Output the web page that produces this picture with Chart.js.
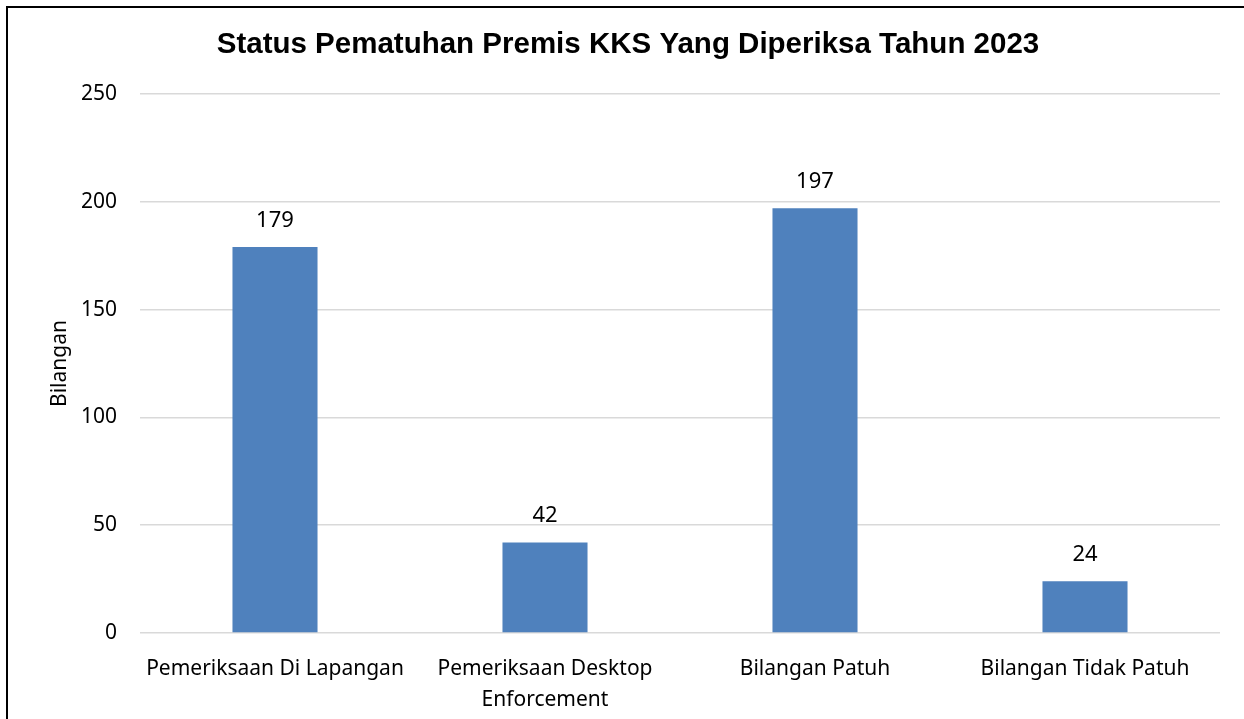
<!DOCTYPE html>
<html>
<head>
<meta charset="utf-8">
<script src="https://cdn.jsdelivr.net/npm/chart.js@4.4.0/dist/chart.umd.min.js"></script>
<style>
  html, body { margin: 0; padding: 0; background: #fff; }
  body { width: 1244px; height: 719px; overflow: hidden; position: relative; }
  .frame { position: absolute; left: 6px; top: 6px; width: 1300px; height: 800px;
           border-left: 2px solid #000; border-top: 2px solid #000; }
  #chartWrap { position: absolute; left: 0; top: 0; width: 1244px; height: 719px; }
</style>
</head>
<body>
<div class="frame"></div>
<div id="chartWrap"><canvas id="statusChart"></canvas></div>
<script>
// data
const categories = [
  "Pemeriksaan Di Lapangan",
  ["Pemeriksaan Desktop", "Enforcement"],
  "Bilangan Patuh",
  "Bilangan Tidak Patuh"
];
const counts = [179, 42, 197, 24];
const yTicks = [0, 50, 100, 150, 200, 250];
const chartTitle = "Status Pematuhan Premis KKS Yang Diperiksa Tahun 2023";

const labelFont = "'Noto Sans', 'Open Sans', sans-serif";

// title + value labels above each bar
const textPlugin = {
  id: "textPlugin",
  afterDatasetsDraw(chart) {
    const ctx = chart.ctx;
    const meta = chart.getDatasetMeta(0);
    ctx.save();
    ctx.fillStyle = "#000";
    ctx.textAlign = "center";
    ctx.textBaseline = "alphabetic";

    ctx.font = "bold 29.5px 'Liberation Sans', Arial, sans-serif";
    ctx.fillText(chartTitle, 628, 53);

    ctx.font = "22px " + labelFont;
    meta.data.forEach((bar, i) => {
      ctx.fillText(String(counts[i]), bar.x, bar.y - 20);
    });
    ctx.restore();
  }
};

new Chart(document.getElementById("statusChart"), {
  type: "bar",
  data: {
    labels: categories,
    datasets: [{
      data: counts,
      backgroundColor: "#4f81bd",
      categoryPercentage: 1,
      barPercentage: 0.315
    }]
  },
  options: {
    responsive: true,
    maintainAspectRatio: false,
    animation: false,
    layout: { padding: { top: 94, right: 24, bottom: 0, left: 0 } },
    plugins: {
      legend: { display: false },
      tooltip: { enabled: false },
      title: { display: false }
    },
    scales: {
      x: {
        grid: { display: false },
        border: { display: false },
        ticks: {
          color: "#000",
          font: { family: labelFont, size: 21, lineHeight: 1.5 },
          padding: 12,
          maxRotation: 0,
          autoSkip: false
        },
        afterFit(scale) { scale.height = 86; }
      },
      y: {
        min: 0,
        max: 250,
        afterBuildTicks(scale) { scale.ticks = yTicks.map(v => ({ value: v })); },
        grid: { color: "#d9d9d9", lineWidth: 1.5, drawTicks: false },
        border: { display: false },
        ticks: {
          color: "#000",
          font: { family: labelFont, size: 21 },
          padding: 23
        },
        title: {
          display: true,
          text: "Bilangan",
          color: "#000",
          font: { family: labelFont, size: 21 },
          padding: { top: 47, bottom: 0 }
        },
        afterFit(scale) { scale.width = 140; }
      }
    }
  },
  plugins: [textPlugin]
});
</script>
</body>
</html>
